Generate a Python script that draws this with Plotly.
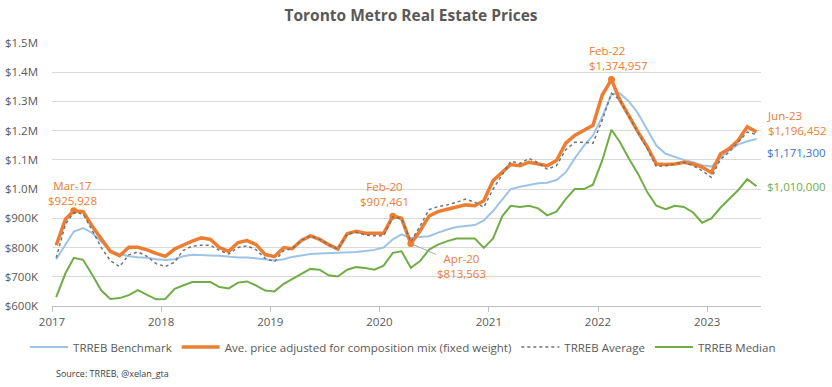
import plotly.graph_objects as go
import pandas as pd

months = [d.strftime("%Y-%m-15") for d in pd.date_range("2017-01-01", "2023-06-01", freq="MS")]

benchmark = [760, 810, 855, 867, 850, 820, 790, 778, 770, 767, 765, 760,
             757, 760, 770, 775, 775, 773, 772, 768, 766, 766, 764, 760,
             756, 760, 768, 774, 778, 780, 781, 781, 782, 785, 788, 792,
             800, 828, 845, 833, 836, 839, 851, 862, 870, 874, 877, 893,
             925, 965, 1000, 1008, 1015, 1020, 1022, 1031, 1057, 1105, 1149, 1184,
             1247, 1325, 1328, 1299, 1259, 1201, 1149, 1121, 1109, 1100, 1092, 1082,
             1077, 1109, 1132, 1153, 1164, 1171.3]
adjusted = [808, 897, 925.928, 923, 874, 828, 787, 772, 801, 801, 792, 780,
            770, 795, 808, 822, 833, 828, 800, 787, 817, 824, 810, 776,
            769, 800, 796, 824, 840, 828, 810, 795, 847, 856, 849, 849,
            849, 907.461, 900, 813.563, 856, 908, 923, 931, 939, 946, 943, 960,
            1029, 1057, 1084, 1080, 1092, 1086, 1080, 1098, 1157, 1184, 1203, 1218,
            1322, 1374.957, 1305, 1247, 1195, 1144, 1086, 1084, 1086, 1092, 1086, 1075,
            1057, 1121, 1138, 1167, 1213, 1196.452]
average = [765, 880, 920, 915, 860, 800, 755, 735, 775, 785, 770, 745,
           735, 750, 790, 805, 808, 808, 790, 778, 800, 806, 792, 763,
           752, 790, 795, 825, 840, 828, 810, 795, 846, 852, 843, 840,
           840, 905, 898, 820, 872, 930, 940, 946, 955, 966, 955, 938,
           1000, 1050, 1095, 1088, 1105, 1090, 1068, 1080, 1135, 1160, 1160, 1157,
           1236, 1328, 1305, 1247, 1195, 1138, 1077, 1080, 1086, 1092, 1080, 1063,
           1040, 1103, 1126, 1161, 1195, 1187]
median = [630, 712, 765, 758, 708, 653, 624, 627, 637, 654, 638, 623,
          624, 659, 670, 682, 682, 682, 665, 660, 680, 684, 670, 653,
          650, 676, 692, 710, 727, 724, 705, 701, 724, 733, 730, 724,
          738, 782, 787, 731, 753, 793, 810, 822, 831, 831, 831, 799,
          831, 908, 943, 939, 943, 934, 910, 923, 966, 1000, 1000, 1015,
          1098, 1203, 1161, 1103, 1052, 989, 943, 931, 943, 939, 920, 885,
          900, 937, 966, 997, 1034, 1010]

def dollars(vals):
    return [v * 1000 for v in vals]

y_ticks = [600000, 700000, 800000, 900000, 1000000, 1100000, 1200000, 1300000, 1400000, 1500000]
y_labels = ["$600K", "$700K", "$800K", "$900K", "$1.0M", "$1.1M", "$1.2M", "$1.3M", "$1.4M", "$1.5M"]
x_ticks = ["2017-01-01", "2018-01-01", "2019-01-01", "2020-01-01", "2021-01-01", "2022-01-01", "2023-01-01"]
x_labels = ["2017", "2018", "2019", "2020", "2021", "2022", "2023"]

marked = [2, 37, 39, 61]

BLUE = "#9DC3E6"
ORANGE = "#ED7D31"
GREY = "#595959"
DOT = "#737373"
GREEN = "#70AD47"
FONT = "Open Sans"

fig = go.Figure()
fig.add_trace(go.Scatter(x=months, y=dollars(benchmark), mode="lines", name="TRREB Benchmark",
                         line=dict(color=BLUE, width=2)))
fig.add_trace(go.Scatter(x=months, y=dollars(adjusted), mode="lines",
                         name="Ave. price adjusted for composition mix (fixed weight)",
                         line=dict(color=ORANGE, width=3.5)))
fig.add_trace(go.Scatter(x=[months[i] for i in marked], y=[adjusted[i] * 1000 for i in marked],
                         mode="markers", showlegend=False,
                         marker=dict(color=ORANGE, size=7)))
fig.add_trace(go.Scatter(x=months, y=dollars(average), mode="lines", name="TRREB Average",
                         line=dict(color=DOT, width=1.5, dash="dot")))
fig.add_trace(go.Scatter(x=months, y=dollars(median), mode="lines", name="TRREB Median",
                         line=dict(color=GREEN, width=2)))

afont = dict(family=FONT, size=11.5, color=ORANGE)
fig.add_annotation(x=months[2], y=adjusted[2] * 1000, text="Mar-17<br>$925,928", showarrow=False,
                   xanchor="center", yanchor="bottom", yshift=1, xshift=-1, font=afont)
fig.add_annotation(x=months[37], y=adjusted[37] * 1000, text="Feb-20<br>$907,461", showarrow=False,
                   xanchor="center", yanchor="bottom", yshift=5, xshift=-8, font=afont)
fig.add_annotation(x=months[39], y=adjusted[39] * 1000, text="Apr-20<br>$813,563", showarrow=True,
                   arrowhead=0, arrowcolor="#A6A6A6", arrowwidth=1, ax=51, ay=22, standoff=0,
                   font=afont)
fig.add_annotation(x=months[61], y=adjusted[61] * 1000, text="Feb-22<br>$1,374,957", showarrow=False,
                   xanchor="left", yanchor="bottom", align="left", xshift=-24, yshift=5, font=afont)
fig.add_annotation(x=months[77], y=adjusted[77] * 1000, text="Jun-23<br>$1,196,452", showarrow=False,
                   xanchor="left", yanchor="middle", align="left", xshift=8, yshift=9, font=afont)
fig.add_annotation(x=months[77], y=benchmark[77] * 1000, text="$1,171,300", showarrow=False,
                   xanchor="left", yanchor="middle", align="left", xshift=8, yshift=-13,
                   font=dict(family=FONT, size=11.5, color="#4472C4"))
fig.add_annotation(x=months[77], y=median[77] * 1000, text="$1,010,000", showarrow=False,
                   xanchor="left", yanchor="middle", align="left", xshift=8, yshift=0,
                   font=dict(family=FONT, size=11.5, color=GREEN))
fig.add_annotation(xref="paper", yref="paper", x=0.003, y=-0.255, text="Source: TRREB, @xelan_gta",
                   showarrow=False, xanchor="left", yanchor="middle",
                   font=dict(family=FONT, size=9, color="#404040"))

fig.update_layout(
    width=832, height=387,
    margin=dict(l=52, r=71, t=43, b=81),
    paper_bgcolor="white", plot_bgcolor="white",
    title=dict(text="<b>Toronto Metro Real Estate Prices</b>", x=0.494, xanchor="center", y=0.961,
               yanchor="middle", font=dict(family=FONT, size=15.5, color=GREY)),
    font=dict(family=FONT, size=11.5, color=GREY),
    showlegend=True,
    legend=dict(orientation="h", x=-0.038, xanchor="left", y=-0.156, yanchor="middle",
                font=dict(family=FONT, size=11.5, color=GREY), itemwidth=38, tracegroupgap=0,
                bgcolor="rgba(0,0,0,0)"),
    hovermode=False,
)
fig.update_xaxes(type="date", range=["2017-01-01", "2023-06-30"], tickvals=x_ticks, ticktext=x_labels,
                 showgrid=False, showline=True, linecolor="#BFBFBF", linewidth=1,
                 ticks="outside", ticklen=5, tickcolor="#BFBFBF", zeroline=False, automargin=False,
                 tickfont=dict(family=FONT, size=11.5, color=GREY))
fig.update_yaxes(range=[600000, 1500000], tickvals=y_ticks, ticktext=y_labels,
                 showgrid=True, gridcolor="#D9D9D9", gridwidth=1, zeroline=False, showline=False,
                 ticks="", ticklabelstandoff=13, automargin=False,
                 tickfont=dict(family=FONT, size=11.5, color=GREY))

fig.write_html("out.html", config={"displayModeBar": False},
               post_script="document.body.style.margin='0px';")
